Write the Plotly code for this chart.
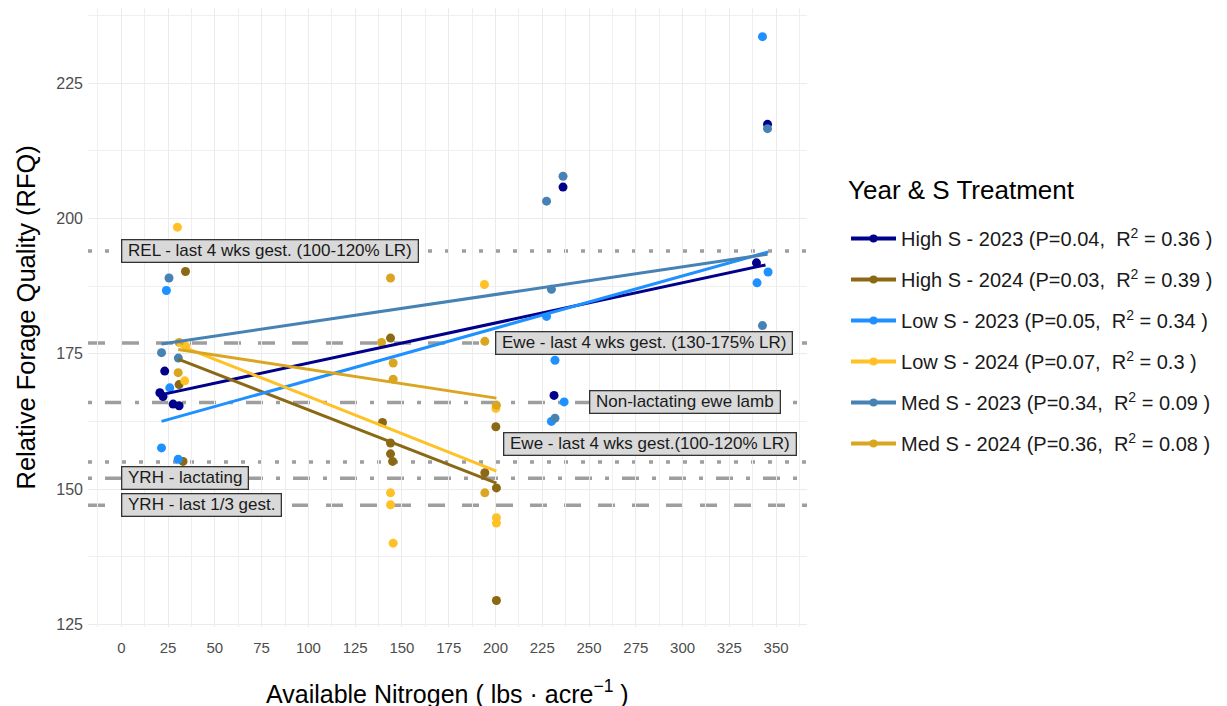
import plotly.graph_objects as go

# ---- observations: available N (lbs/acre) vs relative forage quality ----
series_names = ["High S - 2023", "High S - 2024", "Low S - 2023",
                "Low S - 2024", "Med S - 2023", "Med S - 2024"]
p_values = ["0.04", "0.03", "0.05", "0.07", "0.34", "0.36"]
r2_values = ["0.36", "0.39", "0.34", "0.3", "0.09", "0.08"]
colors = ["#00008B", "#8B6914", "#1E90FF", "#FFC125", "#4682B4", "#DAA520"]

high23_x = [23.2, 20.6, 22.3, 27.7, 30.9, 236.1, 231.3, 345.4, 339.5]
high23_y = [171.8, 167.8, 167.1, 165.7, 165.4, 205.8, 167.3, 217.4, 191.8]

high24_x = [34.3, 30.9, 33.0, 143.9, 139.6, 143.9, 143.9, 145.0, 200.2, 194.3, 200.5, 200.5]
high24_y = [190.2, 169.3, 155.1, 177.9, 162.3, 158.5, 156.5, 155.1, 161.5, 153.0, 150.2, 129.4]

low23_x = [24.1, 25.9, 21.5, 30.4, 227.3, 231.8, 236.7, 229.9, 342.7, 345.7, 339.8]
low23_y = [186.7, 168.7, 157.6, 155.5, 181.9, 173.8, 166.1, 162.5, 233.6, 190.1, 188.1]

low24_x = [30.0, 34.5, 33.9, 143.9, 143.9, 145.3, 194.1, 200.2, 200.5, 200.5]
low24_y = [198.4, 176.4, 170.0, 149.3, 147.1, 140.0, 187.8, 164.9, 144.7, 143.7]

med23_x = [25.5, 21.5, 30.5, 236.1, 227.3, 229.9, 231.8, 345.4, 342.7, 340.0]
med23_y = [189.0, 175.2, 174.2, 207.8, 203.2, 186.9, 163.1, 216.6, 180.2, 176.0]

med24_x = [30.9, 30.4, 143.9, 139.1, 145.3, 145.3, 194.3, 194.3, 200.5]
med24_y = [177.1, 171.5, 189.0, 177.1, 173.3, 170.3, 177.3, 149.3, 165.5]

# fitted linear trends (start/end of each regression line)
fit_x0 = [20.9, 30.4, 21.5, 30.0, 21.5, 30.4]
fit_x1 = [344.3, 200.5, 345.7, 200.5, 345.4, 200.5]
fit_y0 = [167.4, 174.0, 162.5, 176.7, 176.8, 175.8]
fit_y1 = [191.4, 151.1, 193.8, 153.3, 193.4, 166.8]

# nutritional requirement reference levels
ref_levels = [194, 177, 166, 155, 152, 147]
ref_dash = ["dotted", "dashed", "dotdash", "dotted", "dotdash", "dashed"]
ref_labels = ["REL - last 4 wks gest. (100-120% LR)",
              "Ewe - last 4 wks gest. (130-175% LR)",
              "Non-lactating ewe lamb",
              "Ewe - last 4 wks gest.(100-120% LR)",
              "YRH - lactating",
              "YRH - last 1/3 gest."]
label_x = [0, 200, 250, 204, 0, 0]
label_y = [194, 177, 166, 158.3, 152, 147]

x_ticks = list(range(0, 351, 25))
y_ticks = [125, 150, 175, 200, 225]

xs = [high23_x, high24_x, low23_x, low24_x, med23_x, med24_x]
ys = [high23_y, high24_y, low23_y, low24_y, med23_y, med24_y]

dash_px = {"dotted": "4px,13px", "dashed": "17px,17px",
           "dotdash": "4px,13px,17px,13px"}

FONT = "Liberation Sans, Arial, sans-serif"

fig = go.Figure()

# points
for name, col, x, y in zip(series_names, colors, xs, ys):
    fig.add_trace(go.Scatter(x=x, y=y, mode="markers", showlegend=False,
                             marker=dict(color=col, size=9), hoverinfo="x+y",
                             name=name))

# regression lines
for name, col, a0, a1, b0, b1 in zip(series_names, colors, fit_x0, fit_x1, fit_y0, fit_y1):
    fig.add_trace(go.Scatter(x=[a0, a1], y=[b0, b1], mode="lines", showlegend=False,
                             line=dict(color=col, width=3), name=name))

# legend entries
for i, (name, col) in enumerate(zip(series_names, colors)):
    label = f"{name} (P={p_values[i]},\u00a0 R<sup>2</sup> = {r2_values[i]} )"
    fig.add_trace(go.Scatter(x=[None], y=[None], mode="lines+markers", name=label,
                             legendgroup=f"g{i}",
                             line=dict(color=col, width=4),
                             marker=dict(color=col, size=8)))

# horizontal reference lines
for lvl, d in zip(ref_levels, ref_dash):
    fig.add_shape(type="line", xref="paper", x0=0, x1=1, yref="y", y0=lvl, y1=lvl,
                  line=dict(color="#9E9E9E", width=3.5, dash=dash_px[d]),
                  layer="between")

# labels for reference lines
for txt, lx, ly in zip(ref_labels, label_x, label_y):
    fig.add_annotation(x=lx, y=ly, xref="x", yref="y", text="\u00a0" + txt + "\u00a0",
                       showarrow=False, xanchor="left", yanchor="middle",
                       font=dict(family=FONT, size=17, color="#1A1A1A"),
                       bgcolor="#D9D9D9", bordercolor="#333333", borderwidth=1.3,
                       borderpad=1)

# axis titles and legend title
fig.add_annotation(text="Available Nitrogen ( lbs · acre<sup>−1</sup> )",
                   xref="paper", yref="paper", x=0.5, y=0, yshift=-65,
                   showarrow=False, xanchor="center", yanchor="middle",
                   font=dict(family=FONT, size=25, color="#000000"))
fig.add_annotation(text="Relative Forage Quality (RFQ)",
                   xref="paper", yref="paper", x=0, y=0.5, xshift=-63,
                   showarrow=False, xanchor="center", yanchor="middle", textangle=-90,
                   font=dict(family=FONT, size=25.5, color="#000000"))
fig.add_annotation(text="Year & S Treatment",
                   xref="paper", yref="paper", x=1.054, y=0.7067,
                   showarrow=False, xanchor="left", yanchor="middle",
                   font=dict(family=FONT, size=26, color="#000000"))

fig.update_layout(
    width=1227, height=706,
    margin=dict(l=88, r=420, t=8, b=79, autoexpand=False),
    paper_bgcolor="white", plot_bgcolor="white",
    font=dict(family=FONT),
    legend=dict(xref="container", yref="container", x=0.6895, y=0.6898,
                xanchor="left", yanchor="top",
                font=dict(family=FONT, size=20, color="#1A1A1A"),
                traceorder="grouped", tracegroupgap=12, itemwidth=45,
                bgcolor="rgba(0,0,0,0)"),
    xaxis=dict(range=[-17.8, 366.5], tickvals=x_ticks, ticks="", showline=False,
               zeroline=False, gridcolor="#EBEBEB", gridwidth=1.2,
               minor=dict(dtick=12.5, tick0=0, showgrid=True, gridcolor="#EFEFEF", gridwidth=0.8),
               tickfont=dict(family=FONT, size=15, color="#4D4D4D"),
               ticklabelstandoff=10),
    yaxis=dict(range=[124.5, 238.9], tickvals=y_ticks, ticks="", showline=False,
               zeroline=False, gridcolor="#EBEBEB", gridwidth=1.2,
               minor=dict(dtick=12.5, tick0=0, showgrid=True, gridcolor="#EFEFEF", gridwidth=0.8),
               tickfont=dict(family=FONT, size=16, color="#4D4D4D"),
               ticklabelstandoff=4),
)

fig.write_html("out.html")
